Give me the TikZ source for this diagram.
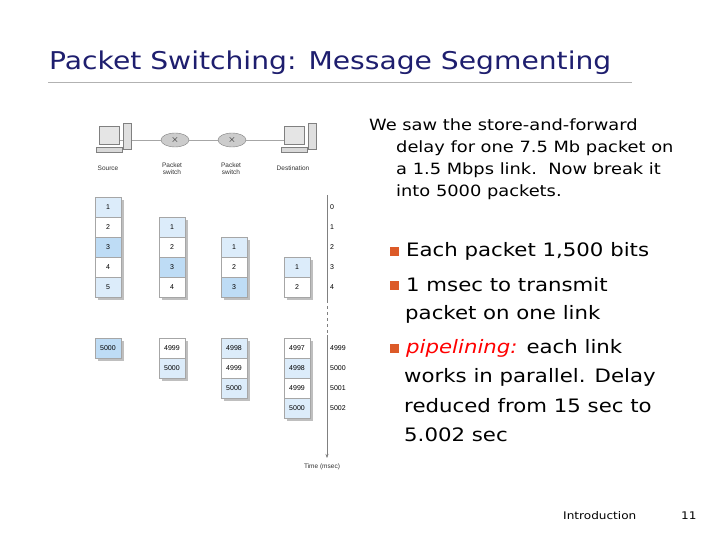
\documentclass[tikz,border=0pt]{standalone}
\usepackage{fontspec}
\setmainfont{Liberation Sans}
\newfontfamily\cf[FakeStretch=1.15]{DejaVu Sans}
\usetikzlibrary{arrows.meta,shapes.geometric}
\definecolor{lb}{RGB}{220,236,250}
\definecolor{mb}{RGB}{190,220,245}
\definecolor{bul}{RGB}{220,90,40}
\definecolor{ttl}{RGB}{30,30,110}
\begin{document}
\begin{tikzpicture}[x=1pt,y=-1pt,
 pk/.style={draw=gray!70,minimum width=26pt,minimum height=20pt,inner sep=0pt,font=\fontsize{7}{8}\selectfont},
 lab/.style={font=\fontsize{6.5}{7}\selectfont,align=center,text=black!80},
 tl/.style={font=\fontsize{7}{8}\selectfont,anchor=west,inner sep=0pt},
 body/.style={font=\cf\fontsize{18.5}{29}\selectfont,anchor=west,inner sep=0pt},
 bl/.style={fill=bul,minimum size=9pt,inner sep=0pt}]
\useasboundingbox (0,0) rectangle (720,540);
\fill[white] (0,0) rectangle (720,540);
\node[anchor=west,text=ttl,font=\cf\fontsize{24.5}{28}\selectfont,inner sep=0pt] (title) at (49,63) {Packet Switching: Message Segmenting};
\draw[gray!60] (48,82) -- (632,82);
% network
\coordinate (src) at (115,140); \coordinate (dst) at (300,140);
\node[draw=gray,fill=gray!40,ellipse,minimum width=28pt,minimum height=14pt,inner sep=0pt] (r1) at (175,140) {$\times$};
\node[draw=gray,fill=gray!40,ellipse,minimum width=28pt,minimum height=14pt,inner sep=0pt] (r2) at (232,140) {$\times$};
\draw[gray!70] (src) -- (r1) -- (r2) -- (dst);
\foreach \n/\x in {c1/115,c2/300}{
 \node[draw=gray,fill=gray!20,minimum width=20pt,minimum height=18pt,inner sep=0pt] (\n m) at (\x-6,135) {};
 \node[draw=gray,fill=gray!25,minimum width=8pt,minimum height=26pt,inner sep=0pt] (\n t) at (\x+12,136) {};
 \node[draw=gray,fill=gray!30,minimum width=26pt,minimum height=5pt,inner sep=0pt] (\n k) at (\x-6,150) {};
}
\node[lab] (l1) at (108,168) {Source};
\node[lab] (l2) at (172,169) {Packet\\switch};
\node[lab] (l3) at (231,169) {Packet\\switch};
\node[lab] (l4) at (293,168) {Destination};
% packets
\newcommand{\pkt}[4]{\fill[gray!50] (#1-10,#2-7) rectangle (#1+16,#2+13);
 \node[pk,fill=#3] at (#1,#2) {#4};}
\foreach \y/\t/\c in {207/1/lb,227/2/white,247/3/mb,267/4/white,287/5/lb}{\pkt{108}{\y}{\c}{\t}}
\foreach \y/\t/\c in {227/1/lb,247/2/white,267/3/mb,287/4/white}{\pkt{172}{\y}{\c}{\t}}
\foreach \y/\t/\c in {247/1/lb,267/2/white,287/3/mb}{\pkt{234}{\y}{\c}{\t}}
\foreach \y/\t/\c in {267/1/lb,287/2/white}{\pkt{297}{\y}{\c}{\t}}
\pkt{108}{348}{mb}{5000}
\foreach \y/\t/\c in {348/4999/white,368/5000/lb}{\pkt{172}{\y}{\c}{\t}}
\foreach \y/\t/\c in {348/4998/lb,368/4999/white,388/5000/lb}{\pkt{234}{\y}{\c}{\t}}
\foreach \y/\t/\c in {348/4997/white,368/4998/lb,388/4999/white,408/5000/lb}{\pkt{297}{\y}{\c}{\t}}
% time axis
\coordinate (ta) at (327,195); \coordinate (tb) at (327,300); \coordinate (tc) at (327,335); \coordinate (td) at (327,458);
\draw[gray] (ta) -- (tb);
\draw[gray,dashed] (tb) -- (tc);
\draw[gray,-{Stealth[length=4pt]}] (tc) -- (td);
\foreach \y/\t in {207/0,227/1,247/2,267/3,287/4,348/4999,368/5000,388/5001,408/5002}{\node[tl] at (330,\y) {\t};}
\node[lab] (tm) at (322,467) {Time (msec)};
% text
\node[anchor=north west,align=left,font=\cf\fontsize{15.5}{21.7}\selectfont,inner sep=0pt] (intro) at (369,119)
 {We saw the store-and-forward\\\hspace{27pt}delay for one 7.5 Mb packet on\\\hspace{27pt}a 1.5 Mbps link.\ \ Now break it\\\hspace{27pt}into 5000 packets.};
\node[bl] (b1) at (394,251) {}; \node[body] at (406,251) {Each packet 1,500 bits};
\node[bl] (b2) at (394,285) {}; \node[body] at (406,285) {1 msec to transmit};
\node[body] at (405,314) {packet on one link};
\node[bl] (b3) at (394,348) {}; \node[body] at (406,348) {\textcolor{red}{\itshape pipelining:} each link};
\node[body] at (404,377) {works in parallel. Delay};
\node[body] at (404,406) {reduced from 15 sec to};
\node[body] at (404,435) {5.002 sec};
\node[anchor=west,font=\cf\fontsize{10.5}{12}\selectfont,inner sep=0pt] (ft) at (563,516) {Introduction};
\node[anchor=west,font=\cf\fontsize{10.5}{12}\selectfont,inner sep=0pt] (pg) at (681,516) {11};
\end{tikzpicture}
\end{document}
